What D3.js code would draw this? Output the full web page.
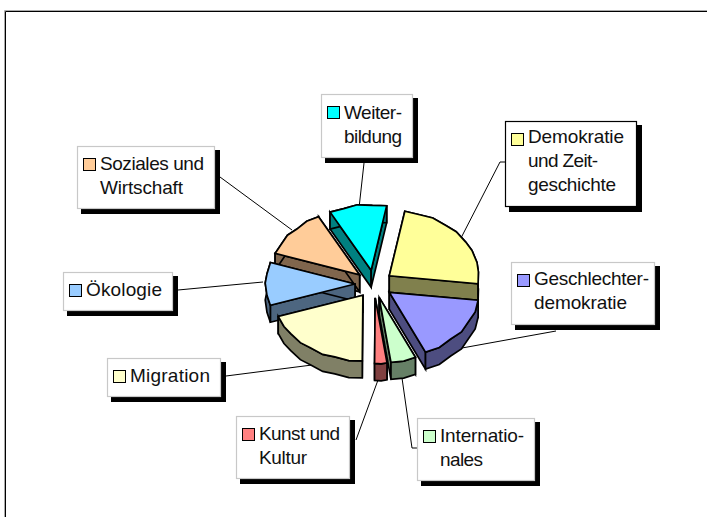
<!DOCTYPE html>
<html>
<head>
<meta charset="utf-8">
<script src="https://cdn.jsdelivr.net/npm/d3@7"></script>
<style>
html, body { margin: 0; padding: 0; background: #fff; }
svg { display: block; }
text { font-family: "Liberation Sans", Arial, sans-serif; font-size: 19px; fill: #111; }
</style>
</head>
<body>
<div id="chart"></div>
<script>
// values, in drawing order (clockwise from 10 degrees)
var categories = ["Demokratie und Zeitgeschichte", "Geschlechterdemokratie", "Internationales",
                  "Kunst und Kultur", "Migration", "Ökologie", "Soziales und Wirtschaft", "Weiterbildung"];
var values = [24, 16.3, 4.5, 2.2, 19.5, 10.5, 12, 10.3];
var labelLines = [["Demokratie", "und Zeit-", "geschichte"], ["Geschlechter-", "demokratie"], ["Internatio-", "nales"],
                  ["Kunst und", "Kultur"], ["Migration"], ["Ökologie"], ["Soziales und", "Wirtschaft"], ["Weiter-", "bildung"]];
var colors = ["#ffff99", "#9999ff", "#ccffcc", "#ff8080", "#ffffcc", "#99ccff", "#ffcc99", "#00ffff"];

var width = 707, height = 517;
var cx = 374, cy = 284, rx = 89.5, ry = 65.5, depth = 17, explode = 19;

// label boxes: x0, y0, x1, y1
var boxes = [[505, 121, 636, 206], [511, 262, 654, 324], [417, 418, 534, 480], [236, 416, 349, 478],
             [107, 358, 220, 396], [63, 272, 172, 310], [77, 146, 214, 208], [321, 94, 412, 157]];
// the source font is spaced unevenly, so each line gets its measured width
var lineWidths = [[96, 70, 88], [115, 93], [84, 43], [81, 48], [80], [76], [104, 83], [58, 58]];
var firstBaseline = [22, 23, 24, 24, 24, 24, 24, 25];
// leader lines as lists of points
var leaders = [[[505, 162], [500, 162], [461, 238]], [[556, 331], [462, 348]], [[402, 378], [412, 448], [417, 448]],
               [[378, 380], [356, 440]], [[226, 376], [312, 365]], [[178, 290], [263, 282]],
               [[220, 177], [292, 230]], [[364, 163], [359, 208]]];

var svg = d3.select("#chart").append("svg").attr("width", width).attr("height", height);

// frame, only top and left are in the picture
svg.append("path")
    .attr("d", "M4.5 517V10.5H707")
    .attr("fill", "none").attr("stroke", "#aaa").attr("stroke-width", 1);
svg.append("path")
    .attr("d", "M5.5 517V11.5H707")
    .attr("fill", "none").attr("stroke", "#000").attr("stroke-width", 1);

var pie = d3.pie().sort(null)
    .startAngle(10 * Math.PI / 180)
    .endAngle(370 * Math.PI / 180);
var slices = pie(values);

var xRim = d3.scaleLinear().domain([0, 1]).range([0, rx]);
var yRim = d3.scaleLinear().domain([0, 1]).range([0, ry]);

function apex(d) {
    var mid = (d.startAngle + d.endAngle) / 2;
    return [cx + xRim(Math.sin(mid)) * explode / rx, cy - yRim(Math.cos(mid)) * explode / rx];
}

function rimPoints(d) {
    var a = apex(d), n = Math.max(2, Math.round((d.endAngle - d.startAngle) / 0.16));
    return d3.range(n + 1).map(function(i) {
        var t = d.startAngle + (d.endAngle - d.startAngle) * i / n;
        // rim is a rough polygon in the source, small wobble to keep that look
        var wob = (i === 0 || i === n) ? 0 : (i % 2 ? 0.7 : -0.7);
        return [a[0] + xRim(Math.sin(t)) + wob * 0.4, a[1] - yRim(Math.cos(t)) + wob];
    });
}

var line = d3.line();
function shift(pts) { return pts.map(function(p) { return [p[0], p[1] + depth]; }); }
function poly(pts) { return line(pts) + "Z"; }

// leaders go under the pie and the boxes
svg.append("g").selectAll("path")
    .data(leaders)
    .enter().append("path")
    .attr("d", line)
    .attr("fill", "none").attr("stroke", "#000").attr("stroke-width", 1);

// back to front
var order = d3.range(slices.length).sort(function(a, b) {
    return d3.ascending(-Math.cos((slices[a].startAngle + slices[a].endAngle) / 2),
                        -Math.cos((slices[b].startAngle + slices[b].endAngle) / 2));
});

var pieG = svg.append("g")
    .attr("stroke", "#000").attr("stroke-width", 1.7).attr("stroke-linejoin", "miter");

order.forEach(function(i) {
    var d = slices[i], a = apex(d), rim = rimPoints(d);
    var first = rim[0], last = rim[rim.length - 1];
    var side = d3.interpolateRgb(colors[i], "#000")(0.5);
    var g = pieG.append("g").attr("fill", side);
    g.append("path").attr("d", poly([a, first].concat(shift([first, a]))));
    g.append("path").attr("d", poly([a, last].concat(shift([last, a]))));
    g.append("path").attr("d", poly(rim.concat(shift(rim).reverse())));
    g.append("path").attr("d", poly([a].concat(rim))).attr("fill", colors[i]);
});

// labels
var labelG = svg.selectAll("g.label")
    .data(categories)
    .enter().append("g").attr("class", "label");

labelG.append("rect")
    .attr("x", function(d, i) { return boxes[i][0] + 4; })
    .attr("y", function(d, i) { return boxes[i][1] + 4; })
    .attr("width", function(d, i) { return boxes[i][2] - boxes[i][0] + 2; })
    .attr("height", function(d, i) { return boxes[i][3] - boxes[i][1] + 2; })
    .attr("fill", "#000");

labelG.append("rect")
    .attr("x", function(d, i) { return boxes[i][0] + 0.5; })
    .attr("y", function(d, i) { return boxes[i][1] + 0.5; })
    .attr("width", function(d, i) { return boxes[i][2] - boxes[i][0]; })
    .attr("height", function(d, i) { return boxes[i][3] - boxes[i][1]; })
    .attr("fill", "#fff")
    .attr("stroke", function(d, i) { return i === 0 ? "#000" : "#c8c8c8"; })
    .attr("stroke-width", 1.2);

labelG.append("rect")
    .attr("x", function(d, i) { return boxes[i][0] + 6.5; })
    .attr("y", function(d, i) { return boxes[i][1] + 12.5; })
    .attr("width", 12).attr("height", 12)
    .attr("fill", function(d, i) { return colors[i]; })
    .attr("stroke", "#000").attr("stroke-width", 1);

labelG.each(function(d, i) {
    d3.select(this).selectAll("text")
        .data(labelLines[i])
        .enter().append("text")
        .attr("x", boxes[i][0] + 23)
        .attr("y", function(t, j) { return boxes[i][1] + firstBaseline[i] + j * 24; })
        .attr("textLength", function(t, j) { return lineWidths[i][j]; })
        .attr("lengthAdjust", "spacing")
        .text(function(t) { return t; });
});
</script>
</body>
</html>
